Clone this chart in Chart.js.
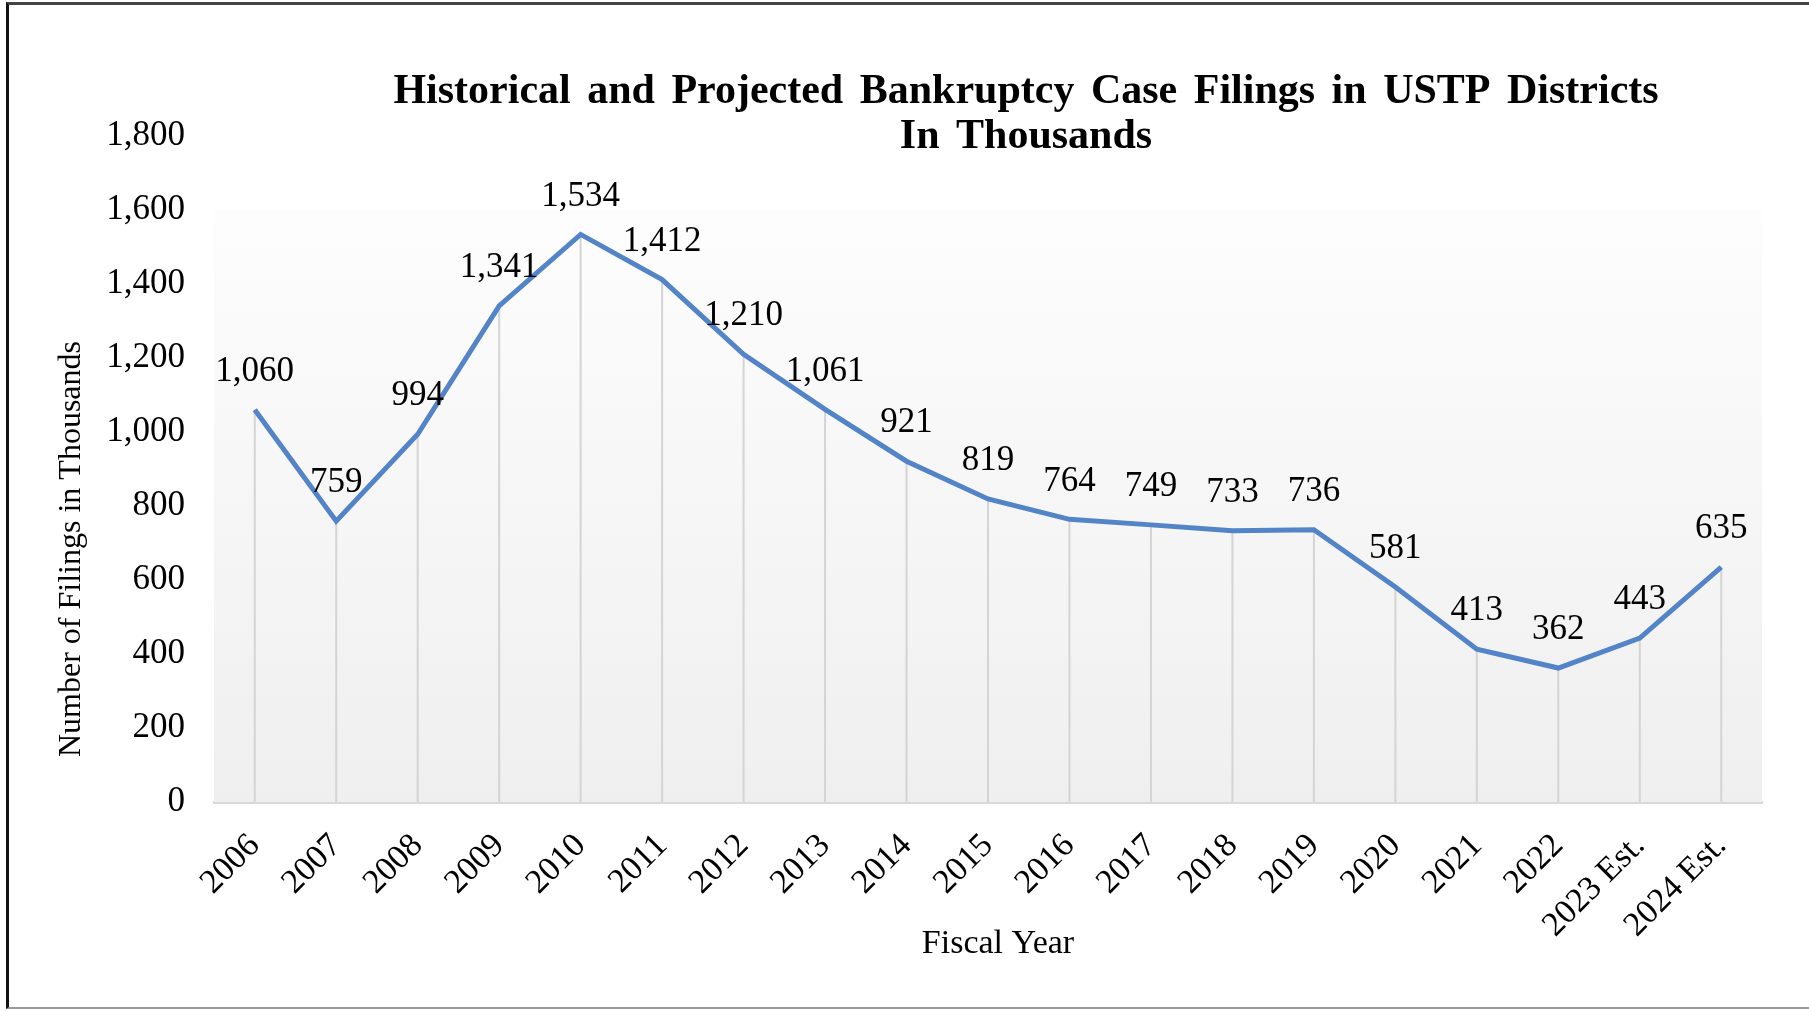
<!DOCTYPE html>
<html>
<head>
<meta charset="utf-8">
<script src="https://cdn.jsdelivr.net/npm/chart.js@4.4.1/dist/chart.umd.min.js"></script>
<style>
  html, body { margin: 0; padding: 0; background: #fff; }
  #wrap { position: relative; width: 1809px; height: 1011px; overflow: hidden; }
  #frame {
    position: absolute; left: 6px; top: 2px; width: 1803px; height: 1007px;
    border-left: 3px solid #111; border-top: 3px solid #444; border-bottom: 2px solid #999;
    box-sizing: border-box; pointer-events: none;
  }
</style>
</head>
<body>
<div id="wrap">
  <canvas id="myChart" width="1809" height="1011"></canvas>
  <div id="frame"></div>
</div>
<script>
// data
const fiscalYears = ['2006', '2007', '2008', '2009', '2010', '2011', '2012', '2013', '2014', '2015',
                     '2016', '2017', '2018', '2019', '2020', '2021', '2022', '2023 Est.', '2024 Est.'];
const filings = [1060, 759, 994, 1341, 1534, 1412, 1210, 1061, 921, 819,
                 764, 749, 733, 736, 581, 413, 362, 443, 635];
const yMin = 0;
const yMax = 1800;
const yStep = 200;
const chartTitle = ['Historical and Projected Bankruptcy Case Filings in USTP Districts', 'In Thousands'];
const yTitle = 'Number of Filings in Thousands';
const xTitle = 'Fiscal Year';

const serif = "'Liberation Serif', 'Times New Roman', serif";
const lineColor = '#5484c8';

// plot area shading, drop lines, value labels, titles
const extras = {
    id: 'extras',
    beforeDatasetsDraw(chart) {
        const {ctx, chartArea, scales} = chart;
        const top = scales.y.getPixelForValue(1600);
        const g = ctx.createLinearGradient(0, top, 0, chartArea.bottom);
        g.addColorStop(0, '#fdfdfd');
        g.addColorStop(1, '#efefef');
        ctx.save();
        ctx.fillStyle = g;
        ctx.fillRect(chartArea.left, top, chartArea.right - chartArea.left, chartArea.bottom - top);
        // drop lines
        ctx.strokeStyle = '#d4d4d4';
        ctx.lineWidth = 2;
        chart.getDatasetMeta(0).data.forEach(pt => {
            ctx.beginPath();
            ctx.moveTo(pt.x, pt.y);
            ctx.lineTo(pt.x, chartArea.bottom);
            ctx.stroke();
        });
        ctx.restore();
    },
    afterDatasetsDraw(chart) {
        const {ctx} = chart;
        ctx.save();
        ctx.font = '35px ' + serif;
        ctx.fillStyle = '#000';
        ctx.textAlign = 'center';
        ctx.textBaseline = 'middle';
        chart.getDatasetMeta(0).data.forEach((pt, i) => {
            ctx.fillText(filings[i].toLocaleString('en-US'), pt.x, pt.y - 38);
        });
        ctx.restore();
    },
    afterDraw(chart) {
        const {ctx} = chart;
        ctx.save();
        ctx.fillStyle = '#000';
        ctx.textAlign = 'center';
        ctx.textBaseline = 'middle';
        ctx.font = 'bold 42px ' + serif;
        ctx.wordSpacing = '6px';
        ctx.fillText(chartTitle[0], 1026, 92);
        ctx.fillText(chartTitle[1], 1026, 137);
        ctx.wordSpacing = '0px';
        ctx.font = '34px ' + serif;
        ctx.fillText(xTitle, 998, 944);
        ctx.font = '32px ' + serif;
        ctx.translate(72, 549);
        ctx.rotate(-Math.PI / 2);
        ctx.fillText(yTitle, 0, 0);
        ctx.restore();
    }
};

const data = {
    labels: fiscalYears,
    datasets: [{
        label: 'Filings',
        data: filings,
        borderColor: lineColor,
        borderWidth: 5,
        pointRadius: 0,
        tension: 0,
        fill: false
    }]
};

const config = {
    type: 'line',
    data,
    options: {
        responsive: false,
        animation: false,
        layout: { padding: { top: 136, right: 47, bottom: 0, left: 0 } },
        plugins: {
            legend: { display: false },
            tooltip: { enabled: false },
            title: { display: false }
        },
        scales: {
            x: {
                offset: true,
                grid: { display: false, drawTicks: false },
                border: { display: true, color: '#d9d9d9', width: 3 },
                ticks: {
                    color: '#000',
                    font: { family: serif, size: 34 },
                    minRotation: 45,
                    maxRotation: 45,
                    padding: 24,
                    autoSkip: false
                },
                afterFit(scale) { scale.height = 209; }
            },
            y: {
                min: yMin,
                max: yMax,
                grid: { display: false, drawTicks: false },
                border: { display: false },
                ticks: {
                    stepSize: yStep,
                    color: '#000',
                    font: { family: serif, size: 35 },
                    padding: 29
                },
                afterFit(scale) { scale.width = 214; }
            }
        }
    },
    plugins: [extras]
};

const myChart = new Chart(document.getElementById('myChart'), config);
</script>
</body>
</html>
